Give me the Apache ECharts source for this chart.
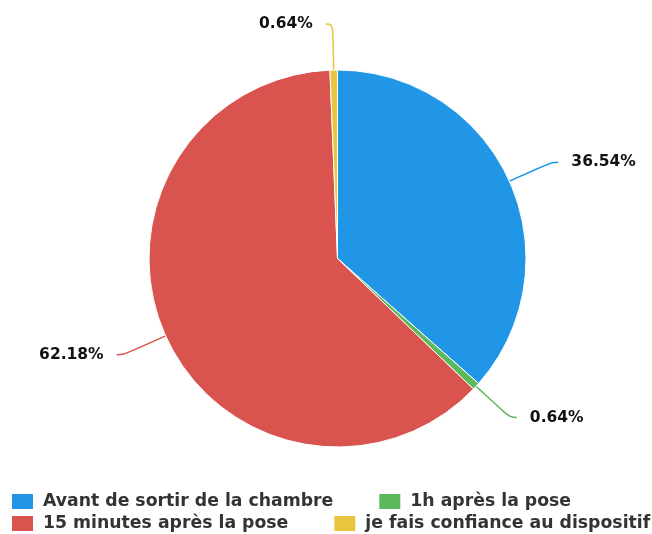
<!DOCTYPE html>
<html><head><meta charset="utf-8">
<script src="https://cdn.jsdelivr.net/npm/echarts@6/dist/echarts.min.js"></script>
<style>html,body{margin:0;padding:0;background:#fff}#c{width:652px;height:534px}</style>
</head><body><div id="c"></div>
<script>
const categories = ["Avant de sortir de la chambre", "1h après la pose", "15 minutes après la pose", "je fais confiance au dispositif"];
const values = [36.54, 0.64, 62.18, 0.64];
const colors = ["#2196e6", "#5cb85c", "#d9534f", "#e8c53e"];

const legendBase = {
  itemWidth: 23, itemHeight: 17, itemGap: 44,
  icon: 'rect', padding: 0, left: 10, width: 800,
  textStyle: {fontFamily: 'DejaVu Sans', fontWeight: 'bold', fontSize: 17.3, color: '#333', padding: [0, 0, 0, 4]}
};

const chart = echarts.init(document.getElementById('c'));
chart.setOption({
  animation: false,
  color: colors,
  legend: [
    Object.assign({}, legendBase, {data: categories.slice(0, 2), top: 492}),
    Object.assign({}, legendBase, {data: categories.slice(2, 4), top: 514})
  ],
  series: [{
    type: 'pie',
    center: [337.5, 258.5],
    radius: [0, 188.5],
    startAngle: 90,
    clockwise: true,
    itemStyle: {borderColor: '#fff', borderWidth: 1},
    label: {
      formatter: p => p.value.toFixed(2) + '%',
      fontFamily: 'DejaVu Sans', fontWeight: 'bold', fontSize: 15.5, color: '#111',
      padding: [5, 0, 0, 0],
      distanceToLabelLine: 13
    },
    labelLine: {length: 46, length2: 7, smooth: 0.5, lineStyle: {width: 1.5}},
    data: categories.map((n, i) => ({name: n, value: values[i]}))
  }]
});
</script></body></html>
